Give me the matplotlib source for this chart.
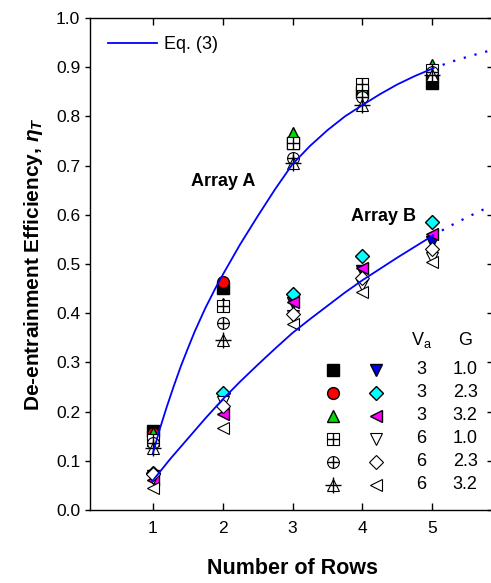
import matplotlib
matplotlib.use('Agg')
import matplotlib.pyplot as plt
import matplotlib.lines as mlines

plt.rcParams['font.family'] = ['Liberation Sans', 'DejaVu Sans']
plt.rcParams['mathtext.fontset'] = 'custom'
plt.rcParams['mathtext.rm'] = 'Liberation Sans'
plt.rcParams['mathtext.it'] = 'Liberation Sans:italic:bold'
plt.rcParams['mathtext.bf'] = 'Liberation Sans:bold'

rows = [1, 2, 3, 4, 5]

# Array A (upper group)
a_3_10 = [0.161, 0.451, 0.745, 0.850, 0.868]
a_3_23 = [0.157, 0.463, 0.746, 0.844, 0.882]
a_3_32 = [0.156, 0.419, 0.766, 0.860, 0.905]
a_6_10 = [0.142, 0.415, 0.746, 0.865, 0.895]
a_6_23 = [0.136, 0.380, 0.715, 0.840, 0.890]
a_6_32 = [0.127, 0.346, 0.705, 0.824, 0.885]

# Array B (lower group)
b_3_10 = [0.070, 0.228, 0.420, 0.485, 0.545]
b_3_23 = [0.076, 0.237, 0.439, 0.516, 0.585]
b_3_32 = [0.061, 0.195, 0.422, 0.492, 0.560]
b_6_10 = [0.065, 0.220, 0.395, 0.458, 0.512]
b_6_23 = [0.073, 0.212, 0.399, 0.471, 0.531]
b_6_32 = [0.045, 0.167, 0.378, 0.444, 0.505]

va_vals = ['3', '3', '3', '6', '6', '6']
g_vals = ['1.0', '2.3', '3.2', '1.0', '2.3', '3.2']

# Eq. (3) curves
curve_xa = [1.0, 1.1, 1.2, 1.3, 1.4, 1.5, 1.6, 1.75, 1.9, 2.0, 2.25, 2.5, 2.75,
            3.0, 3.25, 3.5, 3.75, 4.0, 4.25, 4.5, 4.75, 5.0]
curve_a = [0.115, 0.165, 0.210, 0.252, 0.292, 0.328, 0.363, 0.410, 0.452, 0.478, 0.540,
           0.597, 0.652, 0.703, 0.740, 0.772, 0.800, 0.823, 0.845, 0.865, 0.882, 0.897]
curve_xb = [1.0, 1.25, 1.5, 1.75, 2.0, 2.25, 2.5, 2.75, 3.0, 3.25, 3.5, 3.75,
            4.0, 4.25, 4.5, 4.75, 5.0]
curve_b = [0.060, 0.104, 0.145, 0.186, 0.225, 0.261, 0.295, 0.328, 0.360, 0.388,
           0.415, 0.442, 0.467, 0.490, 0.513, 0.535, 0.557]
ext_x = [5.0, 5.25, 5.5, 5.75, 5.9]
ext_a = [0.897, 0.910, 0.921, 0.931, 0.936]
ext_b = [0.557, 0.577, 0.595, 0.612, 0.622]

# marker styles: (marker, facecolor, overlay)
styles_a = [('s', 'black', None), ('o', 'red', None), ('^', '#00dd00', None),
            ('s', 'white', '+'), ('o', 'white', '+'), ('^', 'white', '+')]
styles_b = [('v', '#0000ee', None), ('D', 'cyan', None), ('<', 'magenta', None),
            ('v', 'white', None), ('D', 'white', None), ('<', 'white', None)]
data_a = [a_3_10, a_3_23, a_3_32, a_6_10, a_6_23, a_6_32]
data_b = [b_3_10, b_3_23, b_3_32, b_6_10, b_6_23, b_6_32]

fig = plt.figure(figsize=(4.91, 5.83), dpi=100)
ax = fig.add_axes([0.1833, 0.1252, 0.825, 0.8439])


def draw(ax, x, y, style, transform=None, z=3):
    m, fc, over = style
    kw = {}
    if transform is not None:
        kw['transform'] = transform
        kw['clip_on'] = False
    ms = 7.5 if m == 'D' else 8.5
    lw = 0.8 if fc == 'white' else 1.0
    ax.plot(x, y, linestyle='none', marker=m, markersize=ms, markerfacecolor=fc,
            markeredgecolor='black', markeredgewidth=lw, zorder=z, **kw)
    if over:
        size = 11 if m == '^' else 8.5
        ax.plot(x, y, linestyle='none', marker=over, markersize=size,
                markeredgecolor='black', markeredgewidth=1.0, zorder=z, **kw)


for ys, st in zip(data_a, styles_a):
    draw(ax, rows, ys, st)
for ys, st in zip(data_b, styles_b):
    draw(ax, rows, ys, st)

line, = ax.plot(curve_xa, curve_a, color='#0000ff', lw=1.3, zorder=5, label='Eq. (3)')
ax.plot(curve_xb, curve_b, color='#0000ff', lw=1.3, zorder=5)
ax.plot(ext_x, ext_a, color='#0000ff', lw=1.6, ls=(0, (1, 4)), zorder=5)
ax.plot(ext_x, ext_b, color='#0000ff', lw=1.6, ls=(0, (1, 4)), zorder=5)

ax.set_xlim(0.1, 5.9)
ax.set_ylim(0, 1.0)
ax.set_xticks(rows)
ax.set_yticks([i / 10 for i in range(11)])
ax.set_yticklabels(['%.1f' % (i / 10) for i in range(11)])
ax.tick_params(axis='x', direction='in', top=True, length=5, width=1, labelsize=12.5, pad=8)
ax.tick_params(axis='y', direction='out', length=3.5, width=1, labelsize=12.5, right=True)
for t in ax.yaxis.get_major_ticks():
    t.tick2line.set_marker(mlines.TICKLEFT)  # point inward from the right side
    t.tick2line.set_markersize(6)
for s in ax.spines.values():
    s.set_linewidth(1.0)

ax.set_xlabel('Number of Rows', fontsize=15.5, fontweight='bold', labelpad=16)
ax.set_ylabel(r'De-entrainment Efficiency, $\eta_T$', fontsize=15, fontweight='bold', labelpad=8)

ax.text(2.0, 0.668, 'Array A', fontsize=13, fontweight='bold', ha='center', va='center')
ax.text(4.3, 0.597, 'Array B', fontsize=13, fontweight='bold', ha='center', va='center')

ax.legend(handles=[line], loc='upper left', frameon=False, fontsize=13,
          handlelength=2.7, handletextpad=0.4, borderaxespad=0.6, bbox_to_anchor=(0.0, 1.0))

# symbol table
col_a, col_b, col_va, col_g = 0.600, 0.706, 0.818, 0.926
ax.text(col_va, 0.3455, r'V$_\mathregular{a}$', transform=ax.transAxes, fontsize=13,
        ha='center', va='center')
ax.text(col_g, 0.3455, 'G', transform=ax.transAxes, fontsize=13, ha='center', va='center')
for i in range(6):
    yy = 0.2846 - i * 0.0467
    draw(ax, [col_a], [yy], styles_a[i], transform=ax.transAxes)
    draw(ax, [col_b], [yy], styles_b[i], transform=ax.transAxes)
    ax.text(col_va, yy, va_vals[i], transform=ax.transAxes, fontsize=13, ha='center', va='center')
    ax.text(col_g, yy, g_vals[i], transform=ax.transAxes, fontsize=13, ha='center', va='center')

fig.savefig('out.png', dpi=100)
